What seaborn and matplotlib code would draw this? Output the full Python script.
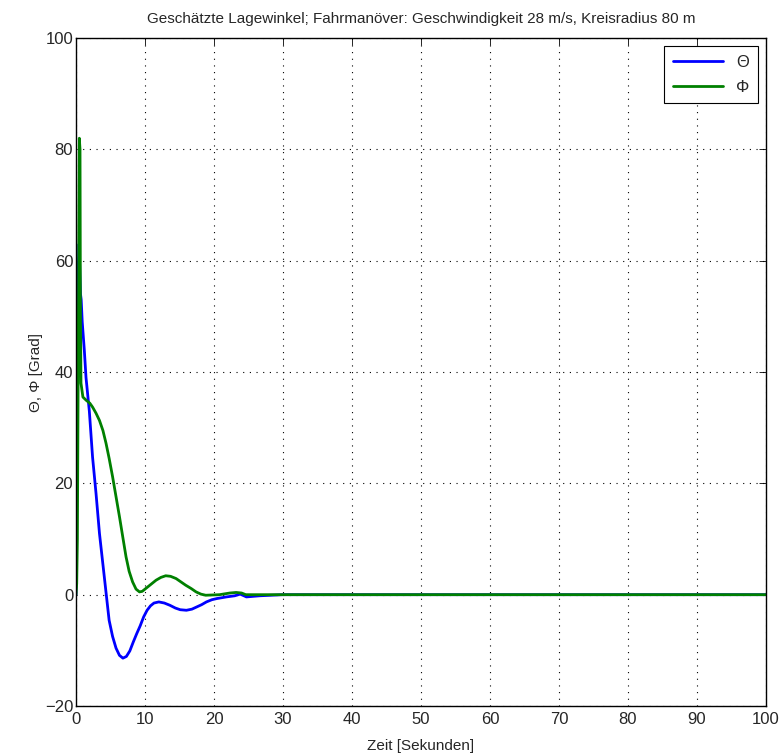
import numpy as np
import pandas as pd
import seaborn as sns
import matplotlib.pyplot as plt

# Theta (blue)
theta_t = [0, 0.05, 0.15, 0.3, 0.45, 0.55, 0.65, 0.75, 0.9, 1.2, 1.45, 1.93, 2.4, 2.9,
           3.4, 4.1, 4.8, 5.3, 5.8, 6.3, 6.8, 7.3, 7.8, 8.3, 8.8, 9.3, 9.8, 10.3, 10.8,
           11.3, 12.0, 12.8, 13.6, 14.4, 15.1, 16.0, 16.8, 17.5, 18.2, 18.9, 19.7, 20.4,
           21.8, 23.0, 23.8, 24.7, 26.6, 30, 100]
theta_v = [0, 9, 40, 58, 63, 58, 54, 53, 49, 44, 39, 33, 24.7, 18.2,
           11, 3.2, -4.6, -7.5, -9.6, -10.9, -11.4, -11.1, -10.1, -8.5, -7.0, -5.6, -4.0, -2.8, -2.0,
           -1.5, -1.3, -1.5, -1.9, -2.4, -2.7, -2.8, -2.6, -2.2, -1.8, -1.3, -0.9, -0.7,
           -0.4, -0.2, 0.1, -0.4, -0.2, 0, 0]

# Phi (green)
phi_t = [0, 0.1, 0.2, 0.35, 0.48, 0.58, 0.64, 0.72, 1.0, 1.5, 2.0, 2.4, 2.9, 3.4, 3.9,
         4.35, 4.8, 5.3, 5.8, 6.3, 6.8, 7.25, 7.7, 8.2, 8.7, 9.2, 9.6, 10.1, 10.8,
         11.6, 12.3, 13.0, 13.7, 14.5, 15.2, 15.9, 16.7, 17.4, 18.1, 18.8, 20.8,
         22.3, 23.2, 24.0, 24.6, 30, 100]
phi_v = [0, 2, 10, 50, 82, 80, 50, 38, 35.5, 34.9, 34.4, 33.7, 32.6, 31.3, 29.5,
         27.2, 24.5, 21.2, 17.6, 14, 10.2, 6.8, 4.2, 2.3, 1.0, 0.5, 0.6, 1.1, 1.8,
         2.6, 3.1, 3.4, 3.3, 2.9, 2.3, 1.7, 1.1, 0.5, 0.1, -0.1, 0,
         0.3, 0.4, 0.3, 0, 0, 0]

df = pd.concat([
    pd.DataFrame({"t": theta_t, "v": theta_v, "s": "Θ"}),
    pd.DataFrame({"t": phi_t, "v": phi_v, "s": "Φ"}),
])

sns.set_style("white")
plt.rcParams["font.family"] = ["Liberation Sans", "DejaVu Sans"]

fig = plt.figure(figsize=(7.82, 7.53), dpi=100)
ax = fig.add_axes([0.0972, 0.0624, 0.8823, 0.8871])

sns.lineplot(data=df, x="t", y="v", hue="s", palette=["#0000ff", "#008000"],
             linewidth=2, ax=ax, sort=False, estimator=None)

ax.set_xlim(0, 100)
ax.set_ylim(-20, 100)
ax.set_xticks(np.arange(0, 101, 10))
ax.set_yticks(np.arange(-20, 101, 20))
ax.grid(True, color="black", linestyle=(0, (1, 5)), linewidth=0.8)
ax.tick_params(direction="in", length=5, labelsize=12, top=True, right=True,
               color="black", width=0.6, pad=2)
ax.tick_params(axis="x", pad=4)
for sp in ax.spines.values():
    sp.set_color("black")
    sp.set_linewidth(1)

ax.set_xlabel("Zeit [Sekunden]", fontsize=11, labelpad=9)
ax.set_ylabel("Θ, Φ [Grad]", fontsize=11, labelpad=1)
ax.set_title("Geschätzte Lagewinkel; Fahrmanöver: Geschwindigkeit 28 m/s, Kreisradius 80 m",
             fontsize=11, pad=11)

leg = ax.legend(loc="upper right", fontsize=12, fancybox=False, framealpha=1,
                edgecolor="black", handlelength=3.0, labelspacing=0.6,
                borderaxespad=0.5, borderpad=0.5)
leg.get_frame().set_linewidth(0.8)

fig.savefig("out.png", dpi=100)
